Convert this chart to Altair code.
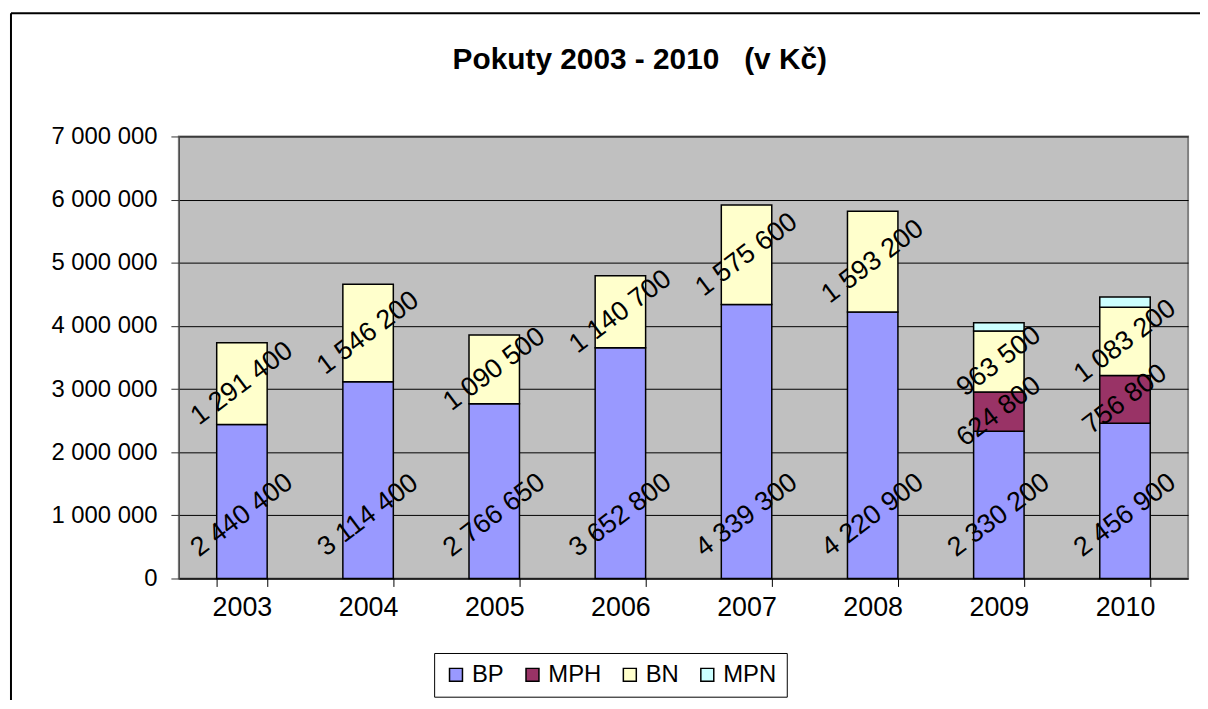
import altair as alt
import pandas as pd

years = ["2003", "2004", "2005", "2006", "2007", "2008", "2009", "2010"]
series = ["BP", "MPH", "BN", "MPN"]
bp = [2440400, 3114400, 2766650, 3652800, 4339300, 4220900, 2330200, 2456900]
mph = [0, 0, 0, 0, 0, 0, 624800, 756800]
bn = [1291400, 1546200, 1090500, 1140700, 1575600, 1593200, 963500, 1083200]
mpn = [0, 0, 0, 0, 0, 0, 130000, 160000]
colors = ["#9999FF", "#993366", "#FFFFCC", "#CCFFFF"]
y_ticks = [0, 1000000, 2000000, 3000000, 4000000, 5000000, 6000000, 7000000]
title_text = "Pokuty 2003 - 2010\u00a0\u00a0\u00a0(v Kč)"

FONT = "Liberation Sans"

rows = []
for i, yr in enumerate(years):
    base = 0
    for s, vals in zip(series, [bp, mph, bn, mpn]):
        v = vals[i]
        if v == 0:
            continue
        mid = base + v / 2
        # Excel places the bottom-segment labels low in the column
        lab_y = min(mid, 1000000) if s == "BP" else mid
        rows.append({
            "year": yr, "series": s, "value": v,
            "y0": base, "y1": base + v, "ly": lab_y,
            "label": f"{v:,}".replace(",", " "),
            "show": s != "MPN",
            "order": series.index(s),
        })
        base += v
df = pd.DataFrame(rows)

x_enc = alt.X("year:N", sort=years,
              scale=alt.Scale(paddingInner=0.6, paddingOuter=0.3),
              axis=alt.Axis(title=None, labelFont=FONT, labelFontSize=27, labelColor="black",
                            labelAngle=0, tickBand="extent", tickSize=8, tickColor="black",
                            domainColor="black", labelPadding=8, grid=False))
y_scale = alt.Scale(domain=[0, 7000000], nice=False)

bars = alt.Chart(df).mark_bar(stroke="black", strokeWidth=1.5).encode(
    x=x_enc,
    y=alt.Y("y0:Q", scale=y_scale,
            axis=alt.Axis(title=None, values=y_ticks, labelFont=FONT, labelFontSize=24,
                          labelColor="black",
                          labelExpr="replace(format(datum.value, ','), /,/g, ' ')",
                          grid=True, gridColor="black", gridWidth=1, tickSize=8,
                          tickColor="#333", domainColor="#444", labelPadding=14)),
    y2="y1:Q",
    color=alt.Color("series:N", sort=series,
                    scale=alt.Scale(domain=series, range=colors),
                    legend=alt.Legend(title=None, orient="none", direction="horizontal",
                                      legendX=257, legendY=520,
                                      symbolType="square", symbolSize=170,
                                      symbolStrokeColor="black", symbolStrokeWidth=1.5,
                                      labelFont=FONT, labelFontSize=24, labelColor="black",
                                      labelOffset=4, columnPadding=16, padding=10,
                                      strokeColor="black", fillColor="white")),
    order="order:Q",
)

labels = alt.Chart(df).transform_filter("datum.show").mark_text(
    font=FONT, fontSize=27, angle=323, align="center", baseline="middle", color="black"
).encode(
    x=alt.X("year:N", sort=years),
    y=alt.Y("ly:Q", scale=y_scale),
    text="label:N",
)

one = pd.DataFrame({"k": [0]})
border_left = alt.Chart(one).mark_rule(color="black", strokeWidth=2).encode(
    x=alt.value(-169), y=alt.value(-124), y2=alt.value(600))
border_top = alt.Chart(one).mark_rule(color="black", strokeWidth=2).encode(
    x=alt.value(-169), x2=alt.value(1040), y=alt.value(-124))
title = alt.Chart(one).mark_text(
    text=title_text, font=FONT, fontSize=30, fontWeight="bold",
    align="center", baseline="alphabetic", color="black"
).encode(x=alt.value(464), y=alt.value(-68))

chart = alt.layer(bars, labels, border_left, border_top, title).properties(
    width=1016, height=445,
    background="white",
    autosize=alt.AutoSizeParams(type="none"),
    padding={"left": 172, "top": 127, "right": 12, "bottom": 120},
).configure_view(
    fill="#C0C0C0", stroke="#808080", strokeWidth=2
)

chart.save("out.html", embed_options={"renderer": "svg", "actions": False})
